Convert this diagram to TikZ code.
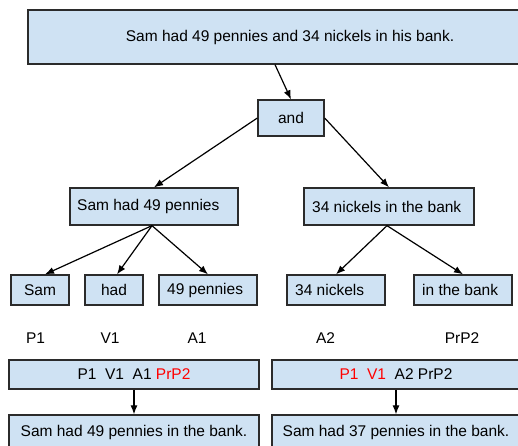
\documentclass[tikz,border=0pt]{standalone}
\usepackage{fontspec}
\setmainfont{Liberation Sans}
\usetikzlibrary{arrows.meta}
\definecolor{boxfill}{HTML}{CFE2F3}
\definecolor{boxline}{HTML}{2B2B2B}
\definecolor{hl}{HTML}{FF0000}
\begin{document}
\begin{tikzpicture}[x=1pt,y=1pt,
  box/.style={draw=boxline,fill=boxfill,line width=1.3pt,inner sep=0pt,font=\fontsize{15.5}{18}\selectfont},
  lbox/.style={box,align=left,text width=#1},
  lab/.style={inner sep=0pt,font=\fontsize{15.5}{18}\selectfont},
  arr/.style={-{Latex[length=9pt,width=7pt]},line width=1.2pt,draw=black}]
\useasboundingbox (0,0) rectangle (518,445);
\clip (0,0) rectangle (518,445);
\fill[white] (0,0) rectangle (518,445);
% top
\node[box,minimum width=524pt,minimum height=54pt] (top) at (290,408) {Sam had 49 pennies and 34 nickels in his bank.};
\node[box,minimum width=66pt,minimum height=36pt] (and) at (291,327) {and};
% level 2
\node[box,minimum width=168pt,minimum height=37pt] (s1) at (154,238.5) {};
\node[lab,anchor=west] (s1t) at (77,238.5) {Sam had 49 pennies};
\node[box,minimum width=170pt,minimum height=37pt] (s2) at (389,238.5) {};
\node[lab,anchor=west] (s2t) at (312,238.5) {34 nickels in the bank};
% leaves
\node[box,minimum width=58pt,minimum height=30pt] (sam) at (40,155) {Sam};
\node[box,minimum width=58pt,minimum height=30pt] (had) at (114,155) {had};
\node[box,minimum width=98pt,minimum height=30pt] (pen) at (208,155) {};
\node[lab,anchor=west] (pent) at (167,155) {49 pennies};
\node[box,minimum width=98pt,minimum height=30pt] (nick) at (336,155) {};
\node[lab,anchor=west] (nickt) at (295,155) {34 nickels};
\node[box,minimum width=98pt,minimum height=30pt] (bank) at (463,155) {};
\node[lab,anchor=west] (bankt) at (422,155) {in the bank};
% labels
\node[lab] (p1) at (35.5,107) {P1};
\node[lab] (v1) at (110,107) {V1};
\node[lab] (a1) at (197,107) {A1};
\node[lab] (a2) at (325.5,107) {A2};
\node[lab] (prp2) at (462,107) {PrP2};
% rows
\node[box,minimum width=250pt,minimum height=29pt] (r1) at (134,70.5) {P1\ \ V1\ \ A1 \textcolor{hl}{PrP2}};
\node[box,minimum width=248pt,minimum height=29pt] (r2) at (396,70.5) {\textcolor{hl}{P1\ \ V1}\ \ A2 PrP2};
\node[box,minimum width=250pt,minimum height=34pt] (b1) at (134,13) {Sam had 49 pennies in the bank.};
\node[box,minimum width=248pt,minimum height=34pt] (b2) at (396,13) {Sam had 37 pennies in the bank.};
% arrows
\draw[arr] ([xshift=-15pt]top.south) -- (and.north);
\draw[arr] (and.west) -- (s1.north);
\draw[arr] (and.east) -- (s2.north);
\draw[arr] ([xshift=-2pt]s1.south) -- ([xshift=5pt]sam.north);
\draw[arr] ([xshift=-2pt]s1.south) -- ([xshift=3pt]had.north);
\draw[arr] ([xshift=-2pt]s1.south) -- (pen.north);
\draw[arr] ([xshift=-2pt]s2.south) -- (nick.north);
\draw[arr] ([xshift=-2pt]s2.south) -- (bank.north);
\draw[arr] (r1.south) -- (b1.north);
\draw[arr] (r2.south) -- (b2.north);
\end{tikzpicture}
\end{document}
